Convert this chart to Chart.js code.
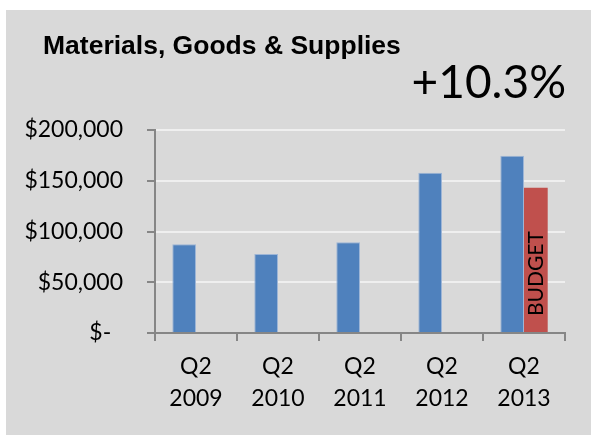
<!DOCTYPE html>
<html>
<head>
<meta charset="utf-8">
<script src="https://cdn.jsdelivr.net/npm/chart.js@4/dist/chart.umd.min.js"></script>
<style>
  html, body { margin: 0; padding: 0; background: #ffffff; }
  #wrap { position: absolute; left: 6px; top: 10px; width: 585px; height: 425px; background: #d9d9d9; }
</style>
</head>
<body>
<div id="wrap"><canvas id="c"></canvas></div>
<script>
const chartTitle = "Materials, Goods & Supplies";
const changeLabel = "+10.3%";
const categories = [["Q2", "2009"], ["Q2", "2010"], ["Q2", "2011"], ["Q2", "2012"], ["Q2", "2013"]];
const actualValues = [87400, 77800, 89300, 157800, 174600];
const budgetValues = [null, null, null, null, 143000];
const budgetLabel = "BUDGET";
const yTicks = [0, 50000, 100000, 150000, 200000];

const AXIS = '#868686';
const TICK_FONT = { family: 'Lato', size: 23, lineHeight: 1.39 };

const overlay = {
  id: 'overlay',
  afterDraw(chart) {
    const ctx = chart.ctx;
    ctx.save();
    ctx.fillStyle = '#000';
    ctx.font = 'bold 26.5px "Liberation Sans", Arial, sans-serif';
    ctx.textAlign = 'left';
    ctx.textBaseline = 'alphabetic';
    ctx.fillText(chartTitle, 37, 44);
    ctx.font = '46px Lato, sans-serif';
    ctx.textAlign = 'right';
    ctx.fillText(changeLabel, 560, 88);
    // budget label inside the red bar
    const meta = chart.getDatasetMeta(1);
    meta.data.forEach((bar, i) => {
      if (budgetValues[i] == null) return;
      ctx.save();
      ctx.translate(bar.x, bar.base - 16);
      ctx.rotate(-Math.PI / 2);
      ctx.font = '21px Lato, sans-serif';
      ctx.textAlign = 'left';
      ctx.textBaseline = 'middle';
      ctx.fillText(budgetLabel, 0, 0);
      ctx.restore();
    });
    ctx.restore();
  }
};

new Chart(document.getElementById('c'), {
  type: 'bar',
  data: {
    labels: categories,
    datasets: [
      { label: 'Actual', data: actualValues, backgroundColor: '#4f81bd', borderColor: '#9db5d6', borderWidth: 1, categoryPercentage: 0.578, barPercentage: 1.0 },
      { label: 'Budget', data: budgetValues, backgroundColor: '#c0504d', borderWidth: 0, categoryPercentage: 0.578, barPercentage: 1.0 }
    ]
  },
  options: {
    responsive: true,
    maintainAspectRatio: false,
    animation: false,
    layout: { padding: { top: 120, right: 26, bottom: 0, left: 0 } },
    plugins: { legend: { display: false }, tooltip: { enabled: false }, title: { display: false } },
    scales: {
      x: {
        offset: true,
        afterFit(s) { s.height = 102; },
        grid: { offset: true, drawOnChartArea: false, drawTicks: true, tickLength: 8, tickColor: AXIS, tickWidth: 2, lineWidth: 2, color: AXIS },
        border: { color: AXIS, width: 2 },
        ticks: { color: '#000', font: TICK_FONT, padding: 10, maxRotation: 0, autoSkip: false }
      },
      y: {
        min: 0,
        max: 200000,
        afterFit(s) { s.width = 149; },
        afterBuildTicks(s) { s.ticks = yTicks.map(v => ({ value: v })); },
        grid: { color: '#efefef', lineWidth: 2, drawTicks: true, tickLength: 8, tickColor: AXIS, tickWidth: 2 },
        border: { color: AXIS, width: 2 },
        ticks: {
          color: '#000', font: TICK_FONT, padding: 24,
          callback: (v) => v === 0 ? '$-  ' : '$' + Number(v).toLocaleString('en-US')
        }
      }
    }
  },
  plugins: [overlay]
});
</script>
</body>
</html>
